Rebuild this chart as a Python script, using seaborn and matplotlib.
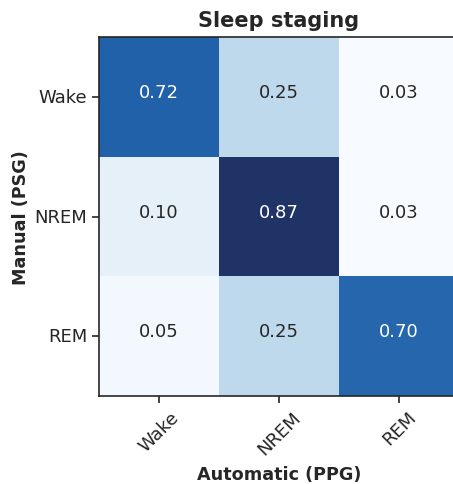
import matplotlib
matplotlib.use("Agg")
import matplotlib.pyplot as plt
from matplotlib.colors import LinearSegmentedColormap
import seaborn as sns
import numpy as np

# Confusion matrix values (rows: manual PSG, cols: automatic PPG)
stages = ["Wake", "NREM", "REM"]
row_wake = [0.72, 0.25, 0.03]
row_nrem = [0.10, 0.87, 0.03]
row_rem = [0.05, 0.25, 0.70]

cm = np.array([row_wake, row_nrem, row_rem])

sns.set_style("ticks")

# Blues, with a slightly softer dark end like the reference
blues = plt.get_cmap("Blues")
stops = [0.0, 0.3, 0.6, 0.83, 1.0]
cols = [blues(0.0), blues(0.3), blues(0.6), "#1f5fa8", "#1f3366"]
cmap = LinearSegmentedColormap.from_list("blues_soft", list(zip(stops, cols)))

fig = plt.figure(figsize=(4.53, 4.85), dpi=100)
ax = fig.add_axes([0.2185, 0.1814, 0.795, 0.740])

sns.heatmap(cm, ax=ax, cmap=cmap, cbar=False, annot=True, fmt=".2f",
            annot_kws={"fontsize": 13, "va": "baseline"},
            xticklabels=stages, yticklabels=stages)

for s in ax.spines.values():
    s.set_visible(True)
    s.set_color("#262626")
    s.set_linewidth(1.2)

ax.tick_params(axis="both", length=5, width=1.2, color="#262626", labelsize=13)
plt.setp(ax.get_xticklabels(), rotation=45, ha="center")
plt.setp(ax.get_yticklabels(), rotation=0)

ax.set_title("Sleep staging", fontsize=15, fontweight="bold", pad=8)
ax.set_xlabel("Automatic (PPG)", fontsize=12.7, fontweight="bold", labelpad=5)
ax.set_ylabel("Manual (PSG)", fontsize=12.7, fontweight="bold", labelpad=3)

fig.savefig("out.png", dpi=100)
